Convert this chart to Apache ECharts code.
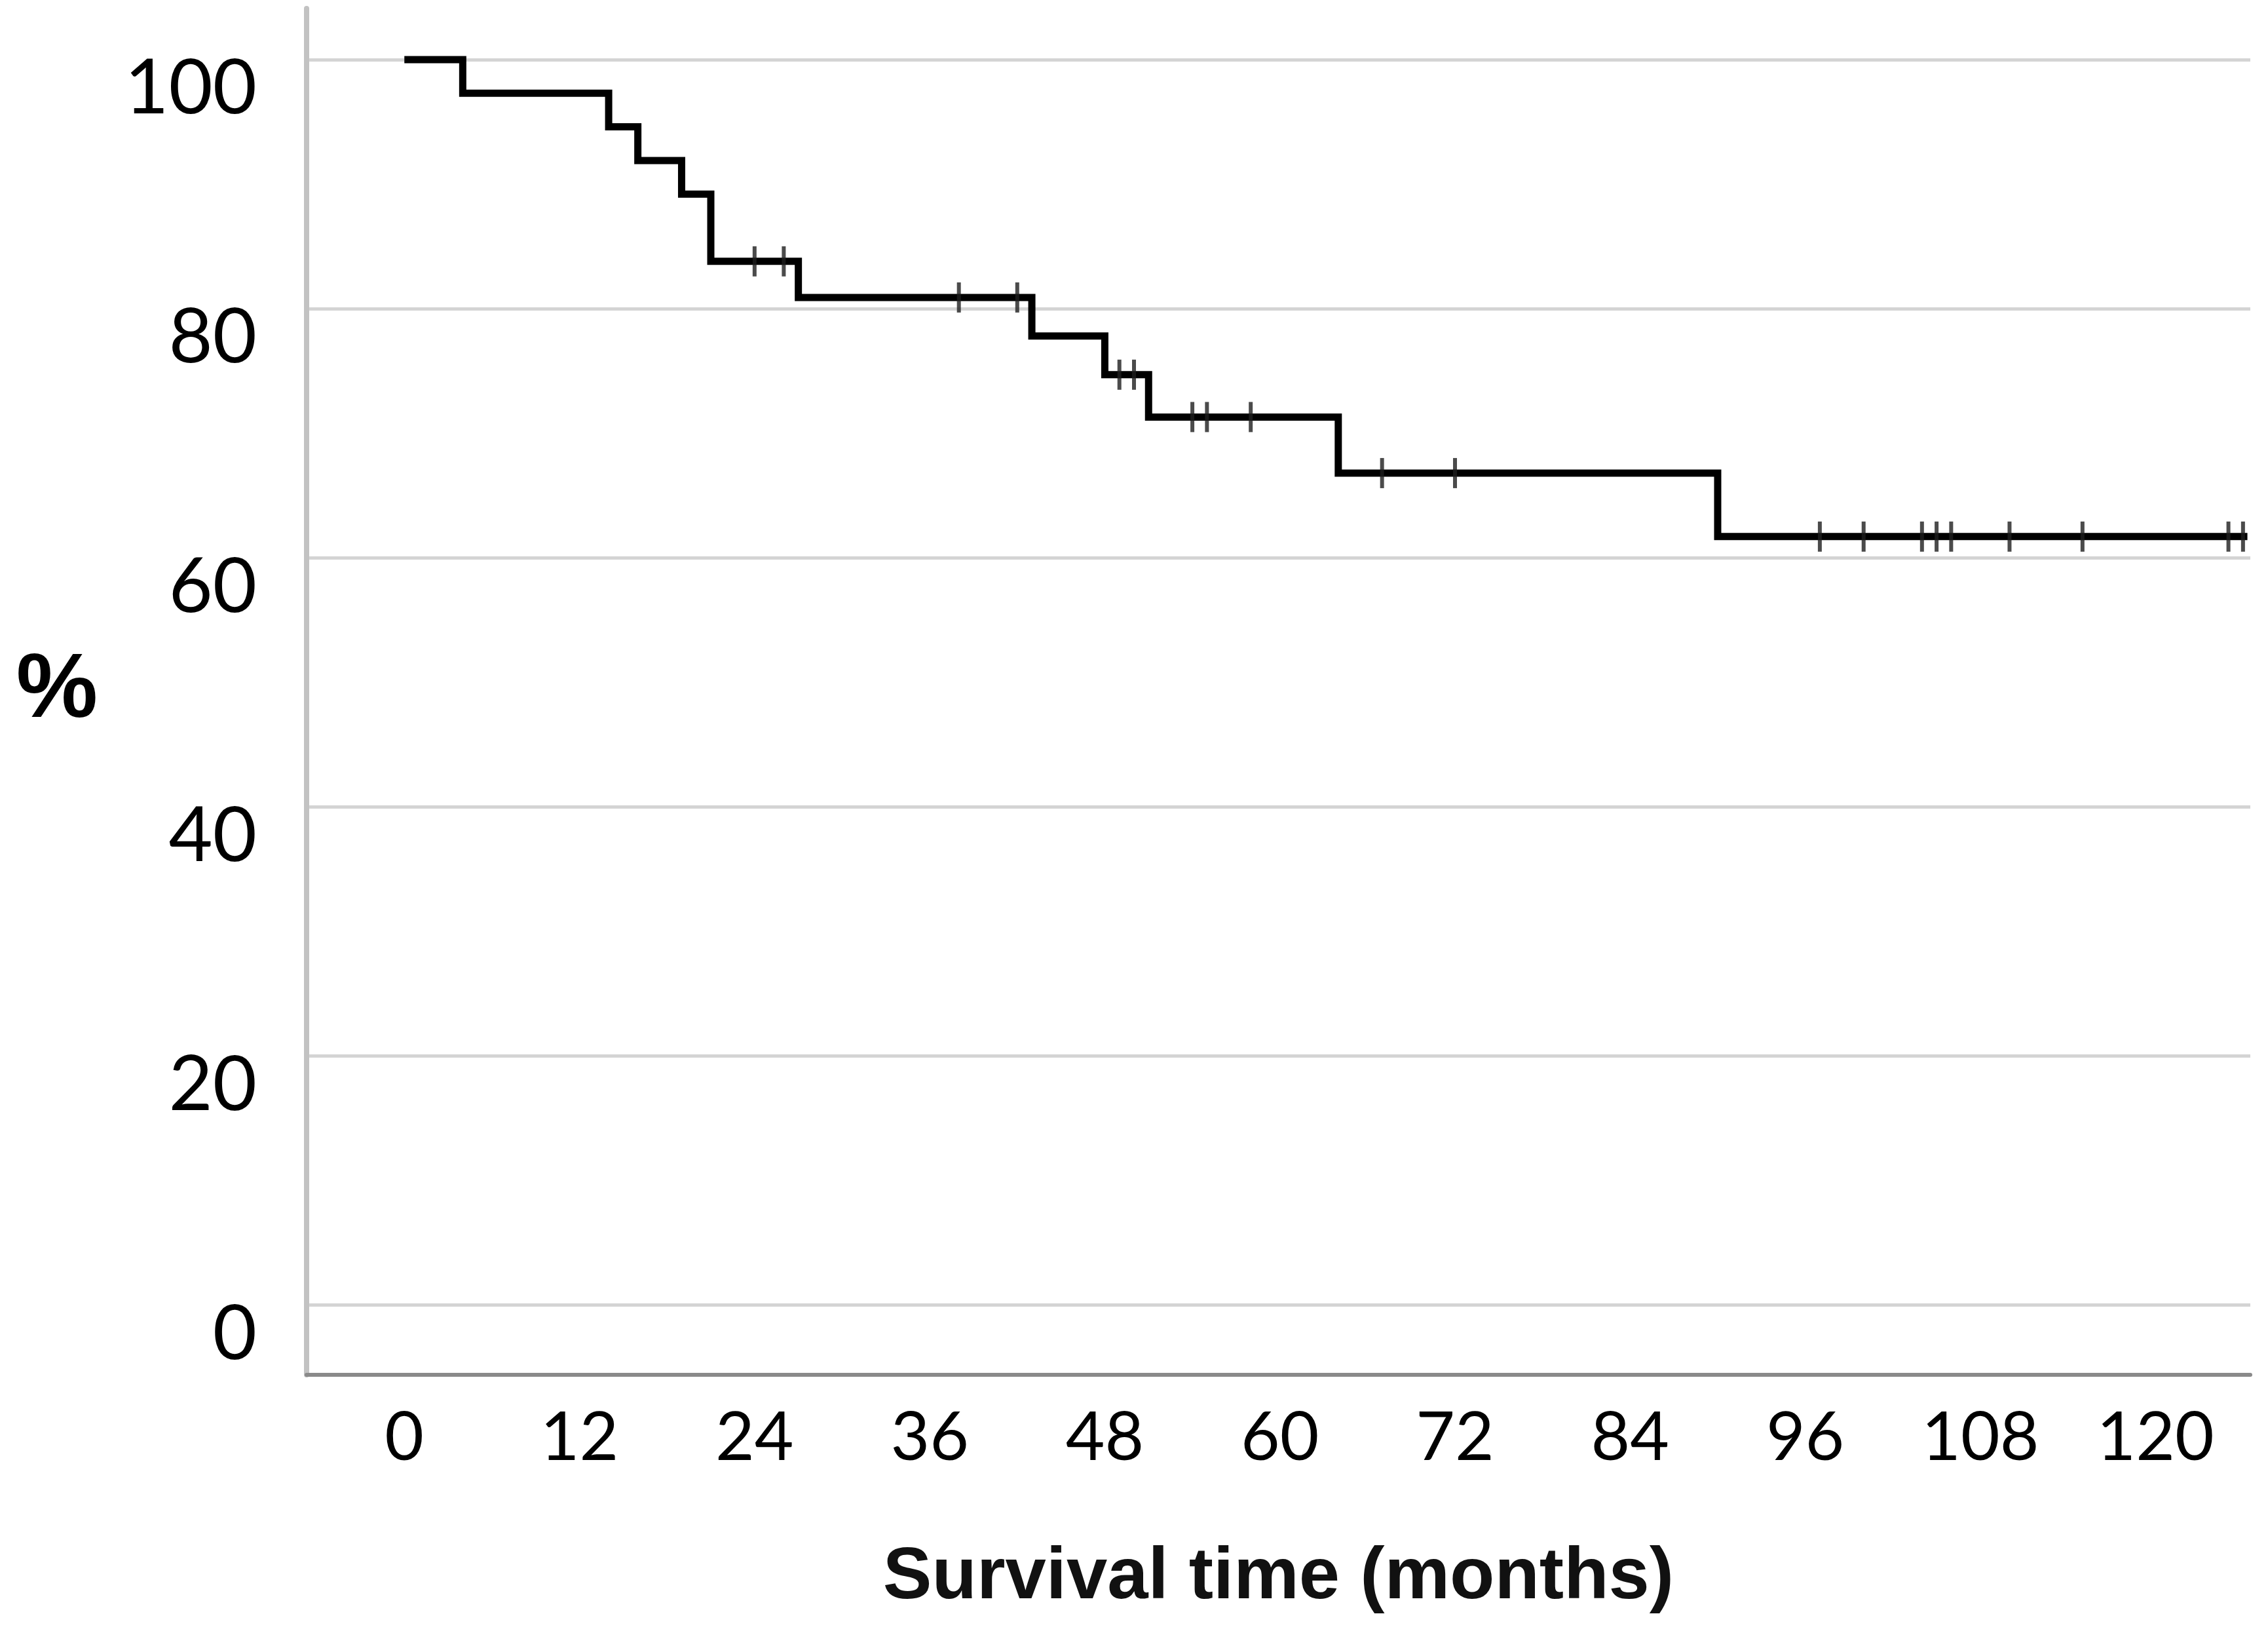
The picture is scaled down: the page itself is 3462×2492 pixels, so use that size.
<!DOCTYPE html>
<html>
<head>
<meta charset="utf-8">
<script src="https://cdn.jsdelivr.net/npm/echarts@6/dist/echarts.min.js"></script>
<style>
html,body{margin:0;padding:0;background:#fff;}
#chart{width:3462px;height:2492px;}
</style>
</head>
<body>
<div id="chart"></div>
<script>
// Kaplan-Meier step points (months, survival %)
const months   = [0, 4, 14, 16, 19, 21, 27, 43, 48, 51, 64, 90, 126.3];
const survival = [100, 97.3, 94.6, 91.9, 89.2, 83.8, 80.9, 77.8, 74.7, 71.3, 66.8, 61.7, 61.7];
// censored observations
const censorMonths   = [24, 26, 38, 42, 49, 50, 54, 55, 58, 67, 72, 97, 100, 104, 105, 106, 110, 115, 125, 126];
const censorSurvival = [83.8, 83.8, 80.9, 80.9, 74.7, 74.7, 71.3, 71.3, 71.3, 66.8, 66.8, 61.7, 61.7, 61.7, 61.7, 61.7, 61.7, 61.7, 61.7, 61.7];
// tick labels
const xTicks = [0, 12, 24, 36, 48, 60, 72, 84, 96, 108, 120];
const yTicks = [0, 20, 40, 60, 80, 100];

const curve = months.map((m, i) => [m, survival[i]]);
const censors = censorMonths.map((m, i) => [m, censorSurvival[i]]);

const chart = echarts.init(document.getElementById('chart'));
chart.setOption({
  animation: false,
  backgroundColor: '#ffffff',
  grid: { left: 468, right: 27, top: 13, bottom: 394, containLabel: false },
  xAxis: {
    type: 'value',
    min: -6.7,
    max: 126.5,
    name: 'Survival time (months)',
    nameLocation: 'middle',
    nameGap: 310,
    nameTextStyle: { fontFamily: 'Liberation Sans', fontWeight: 'bold', fontSize: 112, color: '#111', verticalAlign: 'middle' },
    axisLine: { show: true, onZero: false, lineStyle: { color: '#8a8a8a', width: 6 } },
    axisTick: { show: false, customValues: xTicks },
    axisLabel: { customValues: xTicks, fontFamily: 'Lato', fontSize: 103, color: '#000', margin: 45 },
    splitLine: { show: false }
  },
  yAxis: {
    type: 'value',
    min: -5.6,
    max: 104.1,
    name: '%',
    nameLocation: 'middle',
    nameRotate: 0,
    nameGap: 381,
    nameTextStyle: { fontFamily: 'Liberation Sans', fontWeight: 'bold', fontSize: 140, color: '#000', align: 'center', verticalAlign: 'middle' },
    axisLine: { show: true, onZero: false, lineStyle: { color: '#c2c2c2', width: 8 } },
    axisTick: { show: false, customValues: yTicks },
    axisLabel: { customValues: yTicks, fontFamily: 'Lato', fontSize: 116, color: '#000', margin: 76, verticalAlign: 'top', lineHeight: 90 },
    splitLine: { show: true, lineStyle: { color: '#d4d4d4', width: 5 } }
  },
  series: [
    {
      type: 'line',
      step: 'end',
      data: curve,
      symbol: 'none',
      lineStyle: { color: '#000', width: 11, join: 'miter' },
      z: 3
    },
    {
      type: 'scatter',
      data: censors,
      symbol: 'rect',
      symbolSize: [6, 46],
      itemStyle: { color: '#1e1e1e' },
      z: 4
    }
  ]
});
</script>
</body>
</html>
